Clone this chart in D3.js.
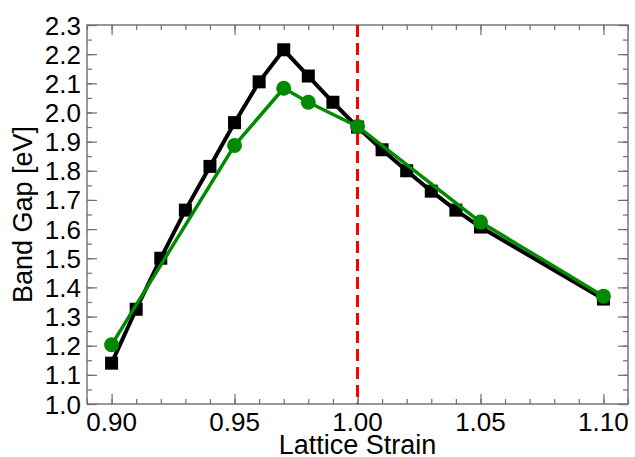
<!DOCTYPE html>
<html>
<head>
<meta charset="utf-8">
<script src="https://cdn.jsdelivr.net/npm/d3@7"></script>
<style>
  body { margin: 0; background: #fff; }
  text { font-family: "Liberation Sans", Arial, sans-serif; fill: #000; }
</style>
</head>
<body>
<div id="chart"></div>
<script>
// data
var strainSquares = [0.90, 0.91, 0.92, 0.93, 0.94, 0.95, 0.96, 0.97, 0.98, 0.99, 1.00, 1.01, 1.02, 1.03, 1.04, 1.05, 1.10];
var gapSquares = [1.14, 1.325, 1.50, 1.665, 1.815, 1.965, 2.105, 2.215, 2.125, 2.035, 1.95, 1.872, 1.80, 1.73, 1.665, 1.607, 1.36];
var strainCircles = [0.90, 0.95, 0.97, 0.98, 1.00, 1.05, 1.10];
var gapCircles = [1.203, 1.887, 2.083, 2.035, 1.952, 1.624, 1.37];
var xTicks = [0.90, 0.95, 1.00, 1.05, 1.10];
var yTicks = [1.0, 1.1, 1.2, 1.3, 1.4, 1.5, 1.6, 1.7, 1.8, 1.9, 2.0, 2.1, 2.2, 2.3];
var refStrain = 1.00;

var width = 635;
var height = 457;

// plot box edges (note: "top" is a reserved global in browsers)
var boxLeft = 87, boxRight = 628, boxTop = 25, boxBottom = 404;

var svg = d3.select("#chart")
    .append("svg")
    .attr("width", width)
    .attr("height", height);

var xScale = d3.scaleLinear().domain([0.89, 1.11]).range([boxLeft, boxRight]);
var yScale = d3.scaleLinear().domain([1.0, 2.3]).range([boxBottom, boxTop]);

// minor tick positions
var xMinor = d3.range(0.89, 1.1101, 0.01).map(function(d) { return +d.toFixed(2); });
var yMinor = d3.range(1.0, 2.301, 0.05).map(function(d) { return +d.toFixed(2); });

var tickColor = "#6e6e6e";

// frame ticks, all pointing inward on every side
function drawTicks(axisFn, scale, values, size, transform) {
    svg.append("g")
        .attr("transform", transform)
        .call(axisFn(scale).tickValues(values).tickSize(size).tickFormat(""))
        .call(function(g) {
            g.select(".domain").remove();
            g.selectAll("line").attr("stroke", tickColor).attr("stroke-width", 1.2);
        });
}

drawTicks(d3.axisTop, xScale, xMinor, 5, "translate(0," + boxBottom + ")");
drawTicks(d3.axisTop, xScale, xTicks, 10, "translate(0," + boxBottom + ")");
drawTicks(d3.axisBottom, xScale, xMinor, 5, "translate(0," + boxTop + ")");
drawTicks(d3.axisBottom, xScale, xTicks, 10, "translate(0," + boxTop + ")");
drawTicks(d3.axisRight, yScale, yMinor, 5, "translate(" + boxLeft + ",0)");
drawTicks(d3.axisRight, yScale, yTicks, 10, "translate(" + boxLeft + ",0)");
drawTicks(d3.axisLeft, yScale, yMinor, 5, "translate(" + boxRight + ",0)");
drawTicks(d3.axisLeft, yScale, yTicks, 10, "translate(" + boxRight + ",0)");

// frame
svg.append("rect")
    .attr("x", boxLeft)
    .attr("y", boxTop)
    .attr("width", boxRight - boxLeft)
    .attr("height", boxBottom - boxTop)
    .attr("fill", "none")
    .attr("stroke", tickColor)
    .attr("stroke-width", 1.4);

// tick labels
svg.append("g").selectAll("text")
    .data(xTicks)
    .enter()
    .append("text")
    .attr("x", function(d) { return xScale(d); })
    .attr("y", 431)
    .attr("text-anchor", "middle")
    .attr("font-size", 26)
    .text(function(d) { return d.toFixed(2); });

svg.append("g").selectAll("text")
    .data(yTicks)
    .enter()
    .append("text")
    .attr("x", 81)
    .attr("y", function(d) { return yScale(d) + 9.5; })
    .attr("text-anchor", "end")
    .attr("font-size", 26)
    .text(function(d) { return d.toFixed(1); });

// axis titles
svg.append("text")
    .attr("x", (boxLeft + boxRight) / 2)
    .attr("y", 454)
    .attr("text-anchor", "middle")
    .attr("font-size", 27)
    .text("Lattice Strain");

svg.append("text")
    .attr("transform", "translate(32," + ((boxTop + boxBottom) / 2) + ")rotate(-90)")
    .attr("text-anchor", "middle")
    .attr("font-size", 27)
    .text("Band Gap [eV]");

// red dashed reference line
svg.append("line")
    .attr("x1", xScale(refStrain))
    .attr("x2", xScale(refStrain))
    .attr("y1", boxTop)
    .attr("y2", boxBottom)
    .attr("stroke", "#ff0000")
    .attr("stroke-width", 3)
    .attr("stroke-dasharray", "12,6");

var line = d3.line()
    .x(function(d) { return xScale(d[0]); })
    .y(function(d) { return yScale(d[1]); });

var squares = d3.zip(strainSquares, gapSquares);
var circles = d3.zip(strainCircles, gapCircles);

// black squares series
svg.append("path")
    .datum(squares)
    .attr("d", line)
    .attr("fill", "none")
    .attr("stroke", "#000")
    .attr("stroke-width", 4)
    .attr("stroke-linejoin", "round");

var sq = 13;
svg.append("g").selectAll("rect")
    .data(squares)
    .enter()
    .append("rect")
    .attr("x", function(d) { return xScale(d[0]) - sq / 2; })
    .attr("y", function(d) { return yScale(d[1]) - sq / 2; })
    .attr("width", sq)
    .attr("height", sq)
    .attr("fill", "#000");

// green circles series
svg.append("path")
    .datum(circles)
    .attr("d", line)
    .attr("fill", "none")
    .attr("stroke", "#008a00")
    .attr("stroke-width", 3.5)
    .attr("stroke-linejoin", "round");

svg.append("g").selectAll("circle")
    .data(circles)
    .enter()
    .append("circle")
    .attr("cx", function(d) { return xScale(d[0]); })
    .attr("cy", function(d) { return yScale(d[1]); })
    .attr("r", 7.5)
    .attr("fill", "#008a00");
</script>
</body>
</html>
